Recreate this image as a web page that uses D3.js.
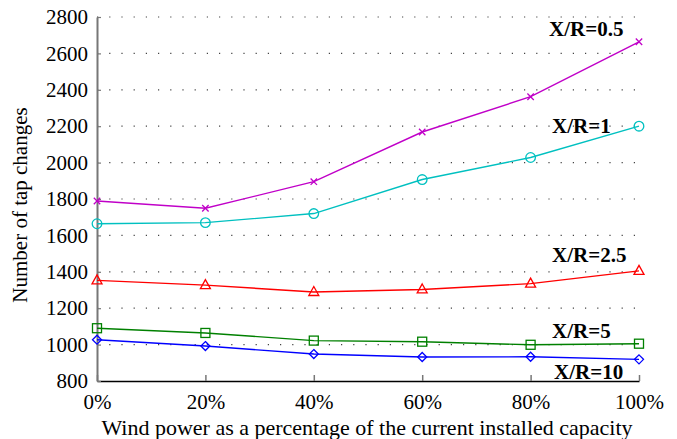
<!DOCTYPE html>
<html>
<head>
<meta charset="utf-8">
<script src="https://cdn.jsdelivr.net/npm/d3@7"></script>
<style>
  html, body { margin: 0; padding: 0; background: #fff; }
  svg text { font-family: "Liberation Serif", "Times New Roman", Times, serif; }
</style>
</head>
<body>
<svg id="chart" width="677" height="439"></svg>
<script>
// Wind penetration levels (fraction of current installed capacity)
const windLevels = [0, 0.2, 0.4, 0.6, 0.8, 1.0];
const xTickLabels = ["0%", "20%", "40%", "60%", "80%", "100%"];
const yTicks = [800, 1000, 1200, 1400, 1600, 1800, 2000, 2200, 2400, 2600, 2800];

// Number of tap changes for each X/R ratio
const xr05 = [1789, 1749, 1895, 2168, 2362, 2664];
const xr1  = [1664, 1670, 1720, 1907, 2028, 2200];
const xr25 = [1353, 1327, 1289, 1303, 1335, 1405];
const xr5  = [1090, 1064, 1022, 1016, 999, 1005];
const xr10 = [1027, 992, 948, 932, 933, 919];

const seriesNames = ["X/R=0.5", "X/R=1", "X/R=2.5", "X/R=5", "X/R=10"];
const seriesValues = [xr05, xr1, xr25, xr5, xr10];

const colors = ["#c000c8", "#00c0c0", "#ff0000", "#008000", "#0000ff"];
const markers = ["cross", "circle", "triangle", "square", "diamond"];
// label anchor: [left x, baseline y]
const labelPos = [[549, 36], [552, 133], [552, 262], [552, 338], [554, 379]];

const svg = d3.select("#chart");
const margin = { left: 97, right: 38, top: 17, bottom: 58 };
const W = 677, H = 439;

const x = d3.scaleLinear().domain([0, 1]).range([margin.left, W - margin.right]);
const y = d3.scaleLinear().domain([800, 2800]).range([H - margin.bottom, margin.top]);

// dotted horizontal grid
svg.append("g")
  .selectAll("line")
  .data(yTicks.slice(1))
  .join("line")
  .attr("x1", margin.left).attr("x2", W - margin.right)
  .attr("y1", d => y(d)).attr("y2", d => y(d))
  .attr("stroke", "#444")
  .attr("stroke-width", 1.2)
  .attr("stroke-dasharray", "1.2,11");

// bottom axis
const xAxis = svg.append("g")
  .attr("transform", `translate(0,${y(800)})`)
  .call(d3.axisBottom(x).tickValues(windLevels).tickFormat((d, i) => xTickLabels[i]).tickSizeInner(-6).tickSizeOuter(0).tickPadding(13))
  .attr("font-family", null);
xAxis.select(".domain").attr("stroke", "#000").attr("stroke-width", 1.5);
xAxis.selectAll(".tick line").attr("stroke", "#777").attr("stroke-width", 1.5);
xAxis.selectAll(".tick text").attr("font-size", 21).attr("fill", "#000");

// left axis
const yAxis = svg.append("g")
  .attr("transform", `translate(${x(0)},0)`)
  .call(d3.axisLeft(y).tickValues(yTicks).tickFormat(d3.format("d")).tickSizeInner(-4).tickSizeOuter(0).tickPadding(9))
  .attr("font-family", null);
yAxis.select(".domain").attr("stroke", "#777").attr("stroke-width", 2);
yAxis.selectAll(".tick line").attr("stroke", "#777").attr("stroke-width", 1.2);
yAxis.selectAll(".tick text").attr("font-size", 21).attr("fill", "#000");

// axis titles
svg.append("text")
  .attr("x", 367).attr("y", 435)
  .attr("text-anchor", "middle")
  .attr("font-size", 22)
  .text("Wind power as a percentage of the current installed capacity");

svg.append("text")
  .attr("transform", `translate(27,${(y(800) + y(2800)) / 2 + 6}) rotate(-90)`)
  .attr("text-anchor", "middle")
  .attr("font-size", 21)
  .text("Number of tap changes");

const line = d3.line().x((d, i) => x(windLevels[i])).y(d => y(d));

function drawMarker(g, type, color) {
  if (type === "cross") {
    g.append("path").attr("d", "M-3.2,-3.2L3.2,3.2M-3.2,3.2L3.2,-3.2")
      .attr("stroke", color).attr("stroke-width", 1.3).attr("fill", "none");
  } else if (type === "circle") {
    g.append("circle").attr("r", 4.8).attr("fill", "none").attr("stroke", color).attr("stroke-width", 1.3);
  } else if (type === "triangle") {
    g.append("path").attr("d", "M0,-5.5L5,3.5L-5,3.5Z").attr("fill", "none").attr("stroke", color).attr("stroke-width", 1.3);
  } else if (type === "square") {
    g.append("rect").attr("x", -4.5).attr("y", -4.5).attr("width", 9).attr("height", 9)
      .attr("fill", "none").attr("stroke", color).attr("stroke-width", 1.3);
  } else if (type === "diamond") {
    g.append("path").attr("d", "M0,-4.5L4.5,0L0,4.5L-4.5,0Z").attr("fill", "none").attr("stroke", color).attr("stroke-width", 1.3);
  }
}

seriesValues.forEach((vals, s) => {
  const g = svg.append("g");
  g.append("path").datum(vals)
    .attr("d", line)
    .attr("fill", "none")
    .attr("stroke", colors[s])
    .attr("stroke-width", 1.4);
  vals.forEach((v, i) => {
    const m = g.append("g").attr("transform", `translate(${x(windLevels[i])},${y(v)})`);
    drawMarker(m, markers[s], colors[s]);
  });
  svg.append("text")
    .attr("x", labelPos[s][0]).attr("y", labelPos[s][1])
    .attr("font-size", 21).attr("font-weight", "bold")
    .text(seriesNames[s]);
});
</script>
</body>
</html>
